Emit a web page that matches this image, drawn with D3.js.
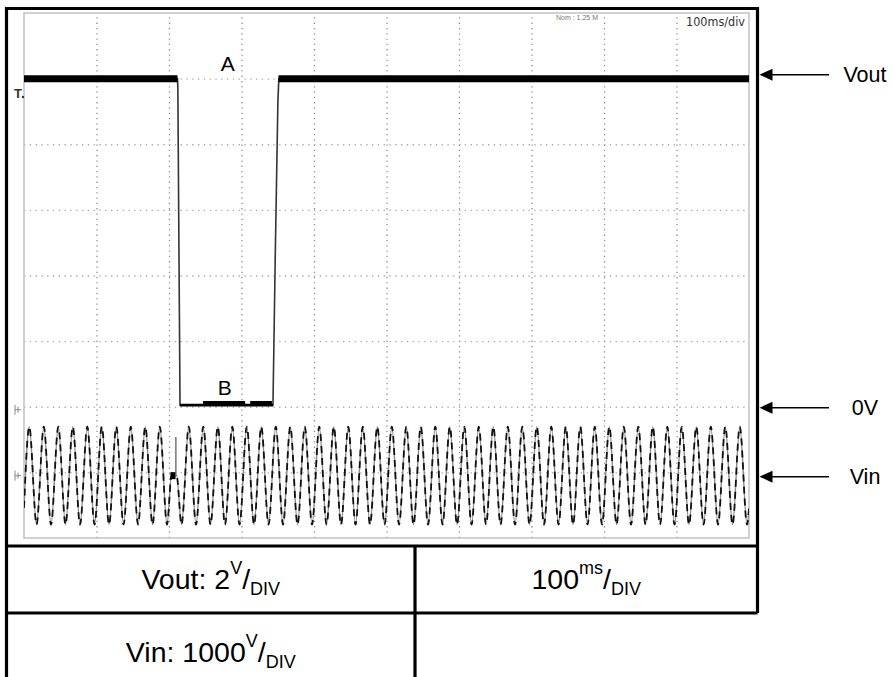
<!DOCTYPE html>
<html>
<head>
<meta charset="utf-8">
<script src="https://cdn.jsdelivr.net/npm/d3@7"></script>
<style>
  html, body { margin: 0; padding: 0; background: #fff; }
  svg { display: block; }
</style>
</head>
<body>
<svg id="chart" width="895" height="677"></svg>
<script>
// ---------------- DATA ----------------
const timeDomainMs = [0, 1000];          // 10 div x 100 ms/div
const voutDomainV = [-4, 12];            // 8 div x 2 V/div
const vinDomainV = [-950, 7050];         // 8 div x 1000 V/div (Vin zero slightly below a grid line)
const gridTimesMs = [100, 200, 300, 400, 500, 600, 700, 800, 900];
const gridVoutV = [-2, 0, 2, 4, 6, 8, 10];

// Vout trace (V): high at 10 V, drops to ~0 V (point B) between ~212 ms and ~350 ms
const voutTimesMs = [0, 211.7, 212.2, 215.2, 343.4, 346.5, 350.2, 351.5, 1000];
const voutVolts   = [10, 10, 9.7, 0.05, 0.05, 4.5, 9.3, 10, 10];
const voutHighSegmentsMs = [[0, 211.7], [351, 1000]];
const voutLowLevelV = 0.05;
const voutLowThinMs = [[215.2, 343.4]];
const voutLowThickMs = [[247, 305], [312, 342]];

// Vin trace (V): 50 Hz mains, extrema
const vinTimesMs = [
  0, 7.3, 17.3, 27.3, 37.3, 47.3, 57.3, 67.3, 77.3, 87.3, 97.3,
  107.3, 117.3, 127.3, 137.3, 147.3, 157.3, 167.3, 177.3, 187.3, 197.3,
  203.5, 210.5,
  217.3, 227.3, 237.3, 247.3, 257.3, 267.3, 277.3, 287.3, 297.3,
  307.3, 317.3, 327.3, 337.3, 347.3, 357.3, 367.3, 377.3, 387.3, 397.3,
  407.3, 417.3, 427.3, 437.3, 447.3, 457.3, 467.3, 477.3, 487.3, 497.3,
  507.3, 517.3, 527.3, 537.3, 547.3, 557.3, 567.3, 577.3, 587.3, 597.3,
  607.3, 617.3, 627.3, 637.3, 647.3, 657.3, 667.3, 677.3, 687.3, 697.3,
  707.3, 717.3, 727.3, 737.3, 747.3, 757.3, 767.3, 777.3, 787.3, 797.3,
  807.3, 817.3, 827.3, 837.3, 847.3, 857.3, 867.3, 877.3, 887.3, 897.3,
  907.3, 917.3, 927.3, 937.3, 947.3, 957.3, 967.3, 977.3, 987.3, 997.3,
  1000
];
const vinVolts = [
  -490, 745, -745, 745, -745, 745, -745, 745, -745, 745, -745,
  745, -745, 745, -745, 745, -745, 745, -745, 745, -745,
  0, 0,
  -745, 745, -745, 745, -745, 745, -745, 745, -745,
  745, -745, 745, -745, 745, -745, 745, -745, 745, -745,
  745, -745, 745, -745, 745, -745, 745, -745, 745, -745,
  745, -745, 745, -745, 745, -745, 745, -745, 745, -745,
  745, -745, 745, -745, 745, -745, 745, -745, 745, -745,
  745, -745, 745, -745, 745, -745, 745, -745, 745, -745,
  745, -745, 745, -745, 745, -745, 745, -745, 745, -745,
  745, -745, 745, -745, 745, -745, 745, -745, 745, -745,
  -500
];
const vinGlitchBlockMs = [202, 209];
const vinGlitchSpike = { t: 209.5, v0: 0, v1: 590 };

const annotations = [
  { label: "A", t: 281, v: 10, dy: -8 },
  { label: "B", t: 277, v: 0, dy: -12 }
];
const sideMarkers = [
  { label: "Vout", channel: "out", v: 10, dy: -4 },
  { label: "0V", channel: "out", v: 0, dy: 1 },
  { label: "Vin", channel: "in", v: 0, dy: 1 }
];
const headerTexts = { zoom: "Nom : 1.25 M", timebase: "100ms/div" };
const tableCells = [
  { main: "Vout: 2", sup: "V", sub: "DIV", col: 0, row: 0 },
  { main: "100", sup: "ms", sub: "DIV", col: 1, row: 0 },
  { main: "Vin: 1000", sup: "V", sub: "DIV", col: 0, row: 1 }
];

// ---------------- LAYOUT ----------------
const FONT = "'Liberation Sans', Arial, Helvetica, sans-serif";
const svg = d3.select("#chart");
const scr = { x0: 24, x1: 749, y0: 13, y1: 538 };
const box = { x0: 6.5, x1: 757.5, y0: 8.5, y1: 546, row2: 613, colX: 415, bottom: 677 };

const x = d3.scaleLinear().domain(timeDomainMs).range([scr.x0, scr.x1]);
const yOut = d3.scaleLinear().domain(voutDomainV).range([scr.y1, scr.y0]);
const yIn = d3.scaleLinear().domain(vinDomainV).range([scr.y1, scr.y0]);

// clip
svg.append("defs").append("clipPath").attr("id", "scr")
  .append("rect").attr("x", scr.x0).attr("y", scr.y0)
  .attr("width", scr.x1 - scr.x0).attr("height", scr.y1 - scr.y0);

// grid via axes
const gx = svg.append("g").attr("transform", `translate(0,${scr.y1})`)
  .call(d3.axisBottom(x).tickValues(gridTimesMs).tickSize(-(scr.y1 - scr.y0)).tickFormat(""));
gx.select(".domain").remove();
gx.selectAll(".tick line").attr("stroke", "#8f8f8f").attr("stroke-width", 1.3).attr("stroke-dasharray", "1.3,4");

const gy = svg.append("g").attr("transform", `translate(${scr.x0},0)`)
  .call(d3.axisLeft(yOut).tickValues(gridVoutV).tickSize(-(scr.x1 - scr.x0)).tickFormat(""));
gy.select(".domain").remove();
gy.selectAll(".tick line").attr("stroke", "#a8a8a8").attr("stroke-width", 1.3).attr("stroke-dasharray", "1.3,4.5");

// screen border
svg.append("rect").attr("x", scr.x0).attr("y", scr.y0)
  .attr("width", scr.x1 - scr.x0).attr("height", scr.y1 - scr.y0)
  .attr("fill", "none").attr("stroke", "#c2c2c2").attr("stroke-width", 1.5);

const traces = svg.append("g").attr("clip-path", "url(#scr)");

// Vin trace
const vinPts = vinTimesMs.map((t, i) => [t, vinVolts[i]]);
const vinLine = d3.line().x(d => x(d[0])).y(d => yIn(d[1])).curve(d3.curveMonotoneX);
traces.append("path").attr("d", vinLine(vinPts))
  .attr("fill", "none").attr("stroke", "#8a8a8a").attr("stroke-width", 1.4);
traces.append("path").attr("d", vinLine(vinPts))
  .attr("fill", "none").attr("stroke", "#111").attr("stroke-width", 1.8)
  .attr("stroke-dasharray", "7,5");
traces.append("line")
  .attr("x1", x(vinGlitchBlockMs[0])).attr("x2", x(vinGlitchBlockMs[1]))
  .attr("y1", yIn(0)).attr("y2", yIn(0))
  .attr("stroke", "#000").attr("stroke-width", 7);
traces.append("line")
  .attr("x1", x(vinGlitchSpike.t)).attr("x2", x(vinGlitchSpike.t))
  .attr("y1", yIn(vinGlitchSpike.v0)).attr("y2", yIn(vinGlitchSpike.v1))
  .attr("stroke", "#555").attr("stroke-width", 1.2);

// Vout trace
const voutPts = voutTimesMs.map((t, i) => [t, voutVolts[i]]);
const linLine = d3.line().x(d => x(d[0])).y(d => yOut(d[1]));
traces.append("path").attr("d", linLine(voutPts))
  .attr("fill", "none").attr("stroke", "#333").attr("stroke-width", 1.6);
voutHighSegmentsMs.forEach(s => {
  traces.append("path").attr("d", linLine([[s[0], 10], [s[1], 10]]))
    .attr("stroke", "#000").attr("stroke-width", 7);
});
voutLowThinMs.forEach(s => {
  traces.append("path").attr("d", linLine([[s[0], voutLowLevelV], [s[1], voutLowLevelV]]))
    .attr("stroke", "#000").attr("stroke-width", 2.6);
});
voutLowThickMs.forEach(s => {
  traces.append("path").attr("d", linLine([[s[0], voutLowLevelV + 0.05], [s[1], voutLowLevelV + 0.05]]))
    .attr("stroke", "#000").attr("stroke-width", 5);
});

// annotations A, B
annotations.forEach(a => {
  svg.append("text").attr("x", x(a.t)).attr("y", yOut(a.v) + a.dy)
    .attr("text-anchor", "middle").attr("font-family", FONT).attr("font-size", 21)
    .attr("fill", "#000").text(a.label);
});

// header texts
svg.append("text").attr("x", 556).attr("y", 20).attr("font-family", FONT)
  .attr("font-size", 7).attr("fill", "#777").text(headerTexts.zoom);
svg.append("text").attr("x", 745).attr("y", 26).attr("text-anchor", "end")
  .attr("font-family", "'Liberation Sans Narrow', 'DejaVu Sans Condensed', Arial, sans-serif")
  .attr("font-size", 12.5).attr("fill", "#333")
  .attr("textLength", 59).attr("lengthAdjust", "spacingAndGlyphs")
  .text(headerTexts.timebase);

// left-side channel markers
const trigY = 92;
svg.append("text").attr("x", 14).attr("y", trigY + 6).attr("font-family", FONT)
  .attr("font-size", 13).attr("font-weight", "bold").attr("fill", "#333").text("T");
svg.append("circle").attr("cx", 23).attr("cy", trigY + 5).attr("r", 1.2).attr("fill", "#333");
[yOut(0) + 3, yIn(0)].forEach(yy => {
  svg.append("path")
    .attr("d", `M15,${yy - 5}V${yy + 5}M15,${yy}H21M18,${yy - 3}V${yy + 3}`)
    .attr("stroke", "#888").attr("stroke-width", 1).attr("fill", "none");
});

// outer box & table
const frame = svg.append("g").attr("stroke", "#000").attr("stroke-width", 3.2).attr("fill", "none");
frame.append("path").attr("d",
  `M${box.x0},${box.bottom + 2}V${box.y0}H${box.x1}V${box.row2}` +
  `M${box.x0},${box.y1}H${box.x1}` +
  `M${box.x0},${box.row2}H${box.x1}` +
  `M${box.colX},${box.y1}V${box.bottom + 2}`);

// right-side arrows
sideMarkers.forEach(m => {
  const yy = (m.channel === "out" ? yOut(m.v) : yIn(m.v)) + m.dy;
  svg.append("line").attr("x1", 829).attr("x2", 768).attr("y1", yy).attr("y2", yy)
    .attr("stroke", "#000").attr("stroke-width", 1.5);
  svg.append("path").attr("d", `M${box.x1 + 2},${yy}L${box.x1 + 15},${yy - 6}L${box.x1 + 15},${yy + 6}Z`)
    .attr("fill", "#000");
  svg.append("text").attr("x", 865).attr("y", yy + 7.5).attr("text-anchor", "middle")
    .attr("font-family", FONT).attr("font-size", 21.5).attr("fill", "#000").text(m.label);
});

// table cell texts
const colCenters = [(box.x0 + box.colX) / 2, (box.colX + box.x1) / 2];
const rowBaselines = [589, 662];
tableCells.forEach(c => {
  const t = svg.append("text").attr("x", colCenters[c.col]).attr("y", rowBaselines[c.row])
    .attr("text-anchor", "middle").attr("font-family", FONT).attr("fill", "#000");
  t.append("tspan").attr("font-size", 28.5).text(c.main);
  t.append("tspan").attr("font-size", 18).attr("dy", -15).text(c.sup);
  t.append("tspan").attr("font-size", 28.5).attr("dy", 15).text("/");
  t.append("tspan").attr("font-size", 18).attr("dy", 6).text(c.sub);
});
</script>
</body>
</html>
